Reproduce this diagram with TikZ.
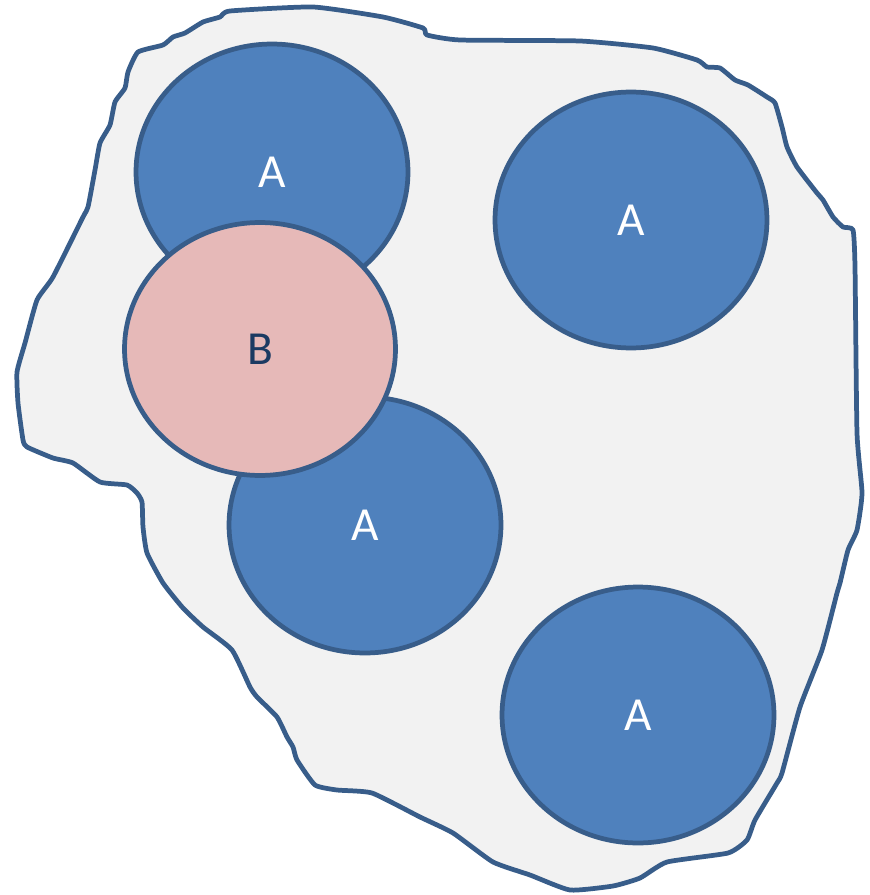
\documentclass[tikz,border=0pt]{standalone}
\usepackage{fontspec}
\setmainfont{Carlito}
\usetikzlibrary{shapes.geometric}

\definecolor{blobfill}{HTML}{F2F2F2}
\definecolor{edgeblue}{HTML}{385D8A}
\definecolor{setblue}{HTML}{4F81BD}
\definecolor{setpink}{HTML}{E6B9B8}
\definecolor{labelnavy}{HTML}{1B3A62}

\tikzset{
    setA/.style = {ellipse, draw = edgeblue, fill = setblue, line width = 2.7pt,
        minimum width = 5.44cm, minimum height = 5.12cm, inner sep = 0pt,
        text = white, font = \fontsize{27}{30}\selectfont},
    setB/.style = {setA, fill = setpink, text = labelnavy,
        minimum width = 5.42cm, minimum height = 5.06cm}
}

\begin{document}
\begin{tikzpicture}[x = 0.02cm, y = -0.02cm]
            \useasboundingbox (0,0) rectangle (869,895);

            % Draw the outer region:
            \draw [fill = blobfill, draw = edgeblue, line width = 2.7pt, line join = round]
                plot [smooth cycle, tension = 0.3] coordinates {
                (138,52) (163,45) (173,37) (185,33) (203,22) (220,17) (230,11) (313,7)
                (383,17) (423,28) (427,35) (460,40) (580,41) (653,48) (697,60) (707,67)
                (720,68) (735,80) (748,85) (767,97) (775,103) (782,127) (787,147) (797,167)
                (817,193) (823,200) (833,217) (843,227) (853,230) (855,267) (857,433) (862,493)
                (857,530) (848,550) (840,583) (837,593) (822,650) (800,707) (782,773) (777,783)
                (755,820) (747,840) (728,853) (667,862) (640,878) (613,886) (570,890) (530,875)
                (493,862) (453,833) (420,817) (372,793) (337,790) (315,785) (297,760) (293,747)
                (287,737) (277,717) (257,697) (250,687) (232,650) (203,627) (183,608) (163,583)
                (147,553) (143,527) (142,502) (137,493) (127,485) (100,482) (73,463) (53,458)
                (27,447) (23,440) (18,403) (17,372) (25,343) (37,300) (53,277) (83,217)
                (88,207) (95,170) (100,143) (110,125) (115,102) (125,88) (128,72)};

            % Draw the sets:
            \node [setA] (TopLeft)     at (272,172) {A};
            \node [setA] (TopRight)    at (631,220) {A};
            \node [setA] (Middle)      at (365,525) {A};
            \node [setA] (BottomRight) at (638,715) {A};
            \node [setB] (Overlap)     at (260,349) {B};
        \end{tikzpicture}
\end{document}
